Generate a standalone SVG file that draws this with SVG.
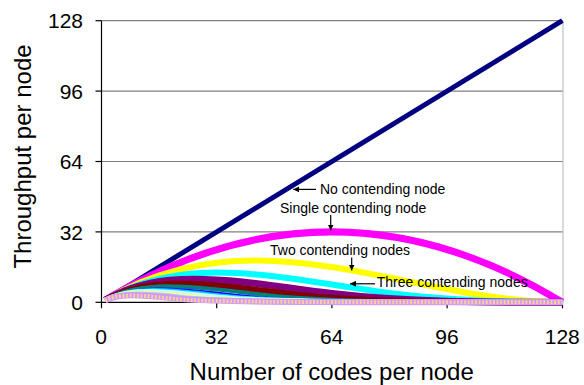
<svg xmlns="http://www.w3.org/2000/svg" width="584" height="385" viewBox="0 0 584 385">
<style>
text{font-family:"Liberation Sans",Arial,sans-serif;fill:#000}
.tick{font-size:21px}
.title{font-size:24px}
.ann{font-size:14px}
.grid{stroke:#808080;stroke-width:1.2}
.axis{stroke:#000;stroke-width:1.2}
.s{fill:none;stroke-linejoin:round;stroke-linecap:butt}
.arr{stroke:#000;stroke-width:1.2;fill:none;marker-end:url(#ah)}
</style>
<defs>
<marker id="ah" viewBox="0 0 10 10" refX="10" refY="5" markerWidth="6" markerHeight="6" markerUnits="userSpaceOnUse" orient="auto">
<path d="M0,0 L10,5 L0,10 Z" fill="#000"/>
</marker>
</defs>
<rect width="584" height="385" fill="#fff"/>
<g id="gridlines">
<line class="grid" x1="101.5" y1="20.7" x2="563" y2="20.7"/>
<line class="grid" x1="101.5" y1="91.1" x2="563" y2="91.1"/>
<line class="grid" x1="101.5" y1="161.5" x2="563" y2="161.5"/>
<line class="grid" x1="101.5" y1="231.9" x2="563" y2="231.9"/>
<line x1="563" y1="20.7" x2="563" y2="302.3" stroke="#c0c0c0" stroke-width="1.2"/>
</g>
<g id="axes">
<line class="axis" x1="101.5" y1="20.7" x2="101.5" y2="302.3"/>
<line class="axis" x1="101.5" y1="302.3" x2="563" y2="302.3"/>
<line class="axis" x1="95.5" y1="20.7" x2="101.5" y2="20.7"/>
<line class="axis" x1="95.5" y1="91.1" x2="101.5" y2="91.1"/>
<line class="axis" x1="95.5" y1="161.5" x2="101.5" y2="161.5"/>
<line class="axis" x1="95.5" y1="231.9" x2="101.5" y2="231.9"/>
<line class="axis" x1="95.5" y1="302.3" x2="101.5" y2="302.3"/>
<line class="axis" x1="101.5" y1="302.3" x2="101.5" y2="308.3"/>
<line class="axis" x1="216.7" y1="302.3" x2="216.7" y2="308.3"/>
<line class="axis" x1="331.9" y1="302.3" x2="331.9" y2="308.3"/>
<line class="axis" x1="447.1" y1="302.3" x2="447.1" y2="308.3"/>
<line class="axis" x1="562.5" y1="302.3" x2="562.5" y2="308.3"/>
<text class="tick" x="83" y="28.3" text-anchor="end">128</text>
<text class="tick" x="83" y="98.7" text-anchor="end">96</text>
<text class="tick" x="83" y="169.1" text-anchor="end">64</text>
<text class="tick" x="83" y="239.5" text-anchor="end">32</text>
<text class="tick" x="83" y="309.9" text-anchor="end">0</text>
<text class="tick" x="101" y="343.5" text-anchor="middle">0</text>
<text class="tick" x="216.5" y="343.5" text-anchor="middle">32</text>
<text class="tick" x="331.7" y="343.5" text-anchor="middle">64</text>
<text class="tick" x="446.9" y="343.5" text-anchor="middle">96</text>
<text class="tick" x="562.3" y="343.5" text-anchor="middle">128</text>
<text class="title" x="331.7" y="380" text-anchor="middle">Number of codes per node</text>
<text class="title" transform="translate(31,156.5) rotate(-90)" text-anchor="middle">Throughput per node</text>
</g>
<g id="series">
<path class="s" stroke="#000080" stroke-width="5" d="M105.1,300.1 L562.3,20.7"/>
<path class="s" stroke="#FF00FF" stroke-width="7" d="M105.1,300.12 Q333.7,162.6 562.3,302.3"/>
<path class="s" stroke="#FFFF00" stroke-width="6" d="M105.1,300.13 C257.5,209.89 409.9,302.3 562.3,302.3"/>
<path class="s" stroke="#00FFFF" stroke-width="6" d="M105.1,300.15 C142.3,278.47 179.5,272.6 216.7,272.6 C270.46,272.6 324.22,284.13 377.98,291.49 C439.42,299.9 500.86,302.3 562.3,302.3"/>
<path class="s" stroke="#800080" stroke-width="7" d="M105.1,300.17 C134.62,283.24 164.14,279.23 193.66,279.23 C239.74,279.23 285.82,288.22 331.9,293.5 C408.7,302.3 485.5,302.3 562.3,302.3"/>
<path class="s" stroke="#800000" stroke-width="6" d="M105.1,300.18 C129.5,286.41 153.9,283.44 178.3,283.44 C221.82,283.44 265.34,291.78 308.86,295.92 C375.96,302.3 480,302.3 562.3,302.3"/>
<path class="s" stroke="#008080" stroke-width="4" d="M105.1,300.2 C125.84,288.67 146.59,286.35 167.33,286.35 C206.83,286.35 246.32,293.67 285.82,297.05 C347.2,302.3 450,302.3 562.3,302.3"/>
<path class="s" stroke="#0000FF" stroke-width="2" d="M105.1,300.22 C123.1,290.38 141.1,288.48 159.1,288.48 C193.66,288.48 228.22,294.6 262.78,297.47 C321,302.3 450,302.3 562.3,302.3"/>
<path class="s" stroke="#00CCFF" stroke-width="4" d="M105.1,300.23 C120.97,291.69 136.83,290.09 152.7,290.09 C181.71,290.09 210.73,294.95 239.74,297.43 C296.6,302.3 440,302.3 562.3,302.3"/>
<path class="s" stroke="#CCFFFF" stroke-width="5" d="M105.1,300.25 C119.26,292.76 133.42,291.39 147.58,291.39 C175.23,291.39 202.87,296 230.52,298.2 C282.1,302.3 430,302.3 562.3,302.3"/>
<path class="s" stroke="#CCFFCC" stroke-width="5" d="M105.1,300.27 C117.86,293.63 130.63,292.43 143.39,292.43 C167.83,292.43 192.26,296.38 216.7,298.34 C266,302.3 420,302.3 562.3,302.3"/>
<path class="s" stroke="#FFFF99" stroke-width="5" d="M105.1,300.28 C116.7,294.34 128.3,293.29 139.9,293.29 C162.43,293.29 184.95,296.87 207.48,298.65 C253.8,302.3 400,302.3 562.3,302.3"/>
<path class="s" stroke="#99CCFF" stroke-width="5" d="M105.1,300.3 C115.72,294.95 126.34,294.01 136.95,294.01 C157.39,294.01 177.83,297.18 198.27,298.8 C242.5,302.3 390,302.3 562.3,302.3"/>
<path class="s" stroke="#FF99CC" stroke-width="5" d="M105.1,300.31 C114.87,295.47 124.64,294.63 134.41,294.63 C154.16,294.63 173.91,297.71 193.66,299.2 C234.7,302.3 380,302.3 562.3,302.3"/>
<path class="s" stroke="#CC99FF" stroke-width="6" d="M105.1,300.33 C114.14,295.93 123.18,295.15 132.22,295.15 C151.16,295.15 170.11,298.12 189.05,299.5 C227.4,302.3 370,302.3 562.3,302.3"/>
<path class="s" stroke="#FFCC99" stroke-width="4" stroke-dasharray="2 1.6" d="M105.1,300.34 C113.5,296.31 121.9,295.62 130.3,295.62 C148.35,295.62 166.39,298.43 184.44,299.72 C220.5,302.3 360,302.3 562.3,302.3"/>
</g>
<g id="annotations">
<line class="arr" x1="316" y1="189.4" x2="293.3" y2="189.4"/>
<text class="ann" x="320" y="194">No contending node</text>
<line class="arr" x1="330.7" y1="215" x2="330.7" y2="230.5"/>
<text class="ann" x="280" y="212.8">Single contending node</text>
<line class="arr" x1="351.7" y1="257.5" x2="351.7" y2="270.5"/>
<text class="ann" x="270" y="254.5">Two contending nodes</text>
<line class="arr" x1="375" y1="283.8" x2="350" y2="283.8"/>
<text class="ann" x="376.7" y="286.7">Three contending nodes</text>
</g>
</svg>
